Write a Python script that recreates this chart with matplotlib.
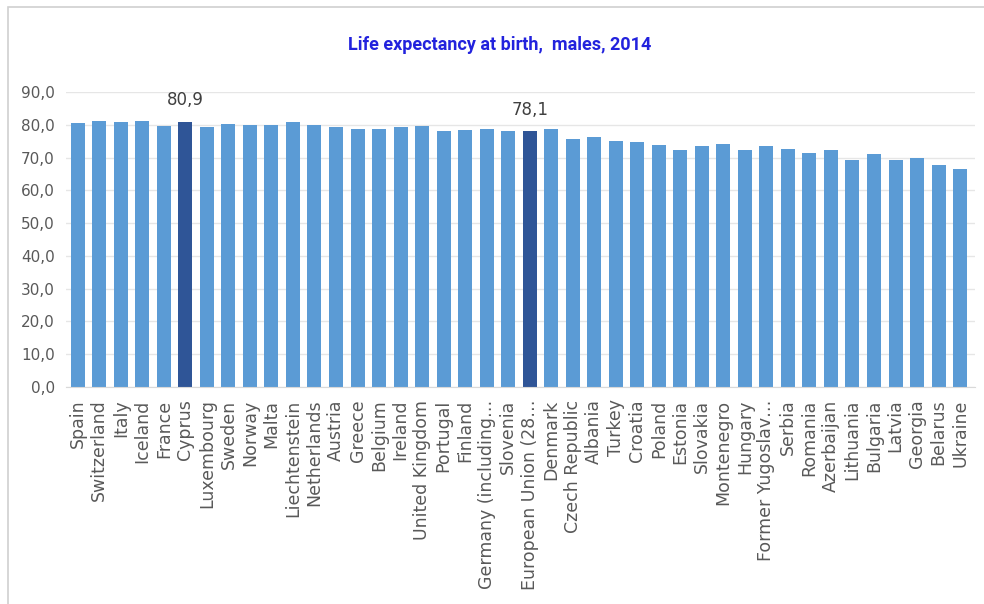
import matplotlib.pyplot as plt
from matplotlib.patches import Rectangle

# Life expectancy at birth, males, 2014
countries = [
    'Spain', 'Switzerland', 'Italy', 'Iceland', 'France', 'Cyprus',
    'Luxembourg', 'Sweden', 'Norway', 'Malta', 'Liechtenstein',
    'Netherlands', 'Austria', 'Greece', 'Belgium', 'Ireland',
    'United Kingdom', 'Portugal', 'Finland', 'Germany (including\u2026',
    'Slovenia', 'European Union (28\u2026', 'Denmark', 'Czech Republic',
    'Albania', 'Turkey', 'Croatia', 'Poland', 'Estonia', 'Slovakia',
    'Montenegro', 'Hungary', 'Former Yugoslav\u2026', 'Serbia', 'Romania',
    'Azerbaijan', 'Lithuania', 'Bulgaria', 'Latvia', 'Georgia', 'Belarus',
    'Ukraine',
]
values = [
    80.4, 81.1, 80.7, 81.3, 79.5, 80.9,
    79.4, 80.3, 80.0, 79.8, 81.0,
    79.9, 79.2, 78.7, 78.8, 79.3,
    79.5, 78.0, 78.4, 78.7,
    78.1, 78.1, 78.7, 75.7,
    76.4, 75.2, 74.7, 73.7, 72.3, 73.4,
    74.1, 72.3, 73.4, 72.7, 71.5,
    72.3, 69.2, 71.1, 69.2, 70.0, 67.8,
    66.6,
]
highlight = ['Cyprus', 'European Union (28\u2026']

fig = plt.figure(figsize=(9.84, 6.04), dpi=100)
ax = fig.add_axes([0.067, 1 - 387 / 604, 0.924, (387 - 92) / 604])

# light grey chart frame
fig.patches.append(Rectangle((8 / 984, -0.1), 1.2, 1 - 7 / 604 + 0.1,
                             transform=fig.transFigure, fill=False,
                             edgecolor='#d0d0d0', linewidth=1.2))

colors = ['#2F5597' if c in highlight else '#5B9BD5' for c in countries]
x = range(len(countries))
bars = ax.bar(x, values, width=0.65, color=colors, zorder=2)

for i, c in enumerate(countries):
    if c in highlight:
        ax.annotate(f"{values[i]:.1f}".replace('.', ','), (i, values[i]),
                    xytext=(0, 9), textcoords='offset points',
                    ha='center', va='bottom', fontsize=12, color='#404040')

ax.set_ylim(0, 90)
ax.set_xlim(-0.55, len(countries) - 0.3)
ax.set_yticks(range(0, 91, 10))
ax.set_yticklabels([f"{v},0" for v in range(0, 91, 10)])
ax.yaxis.grid(True, color='#e6e6e6', linewidth=1, zorder=0)
ax.set_xticks(list(x))
ax.set_xticklabels(countries, rotation=90)
ax.tick_params(axis='both', length=0, colors='#595959')
ax.tick_params(axis='y', labelsize=11, pad=8)
ax.tick_params(axis='x', labelsize=12.5, pad=9)
for s in ['top', 'right', 'left']:
    ax.spines[s].set_visible(False)
ax.spines['bottom'].set_color('#d9d9d9')

fig.text(0.508, 1 - 45 / 604, 'Life expectancy at birth,  males, 2014',
         ha='center', va='center', fontsize=13, fontweight='bold',
         color='#2222DD',
         family=['Liberation Sans Narrow', 'DejaVu Sans Condensed', 'Roboto'],
         fontstretch='condensed')

plt.savefig('out.png', dpi=100)
plt.close()
